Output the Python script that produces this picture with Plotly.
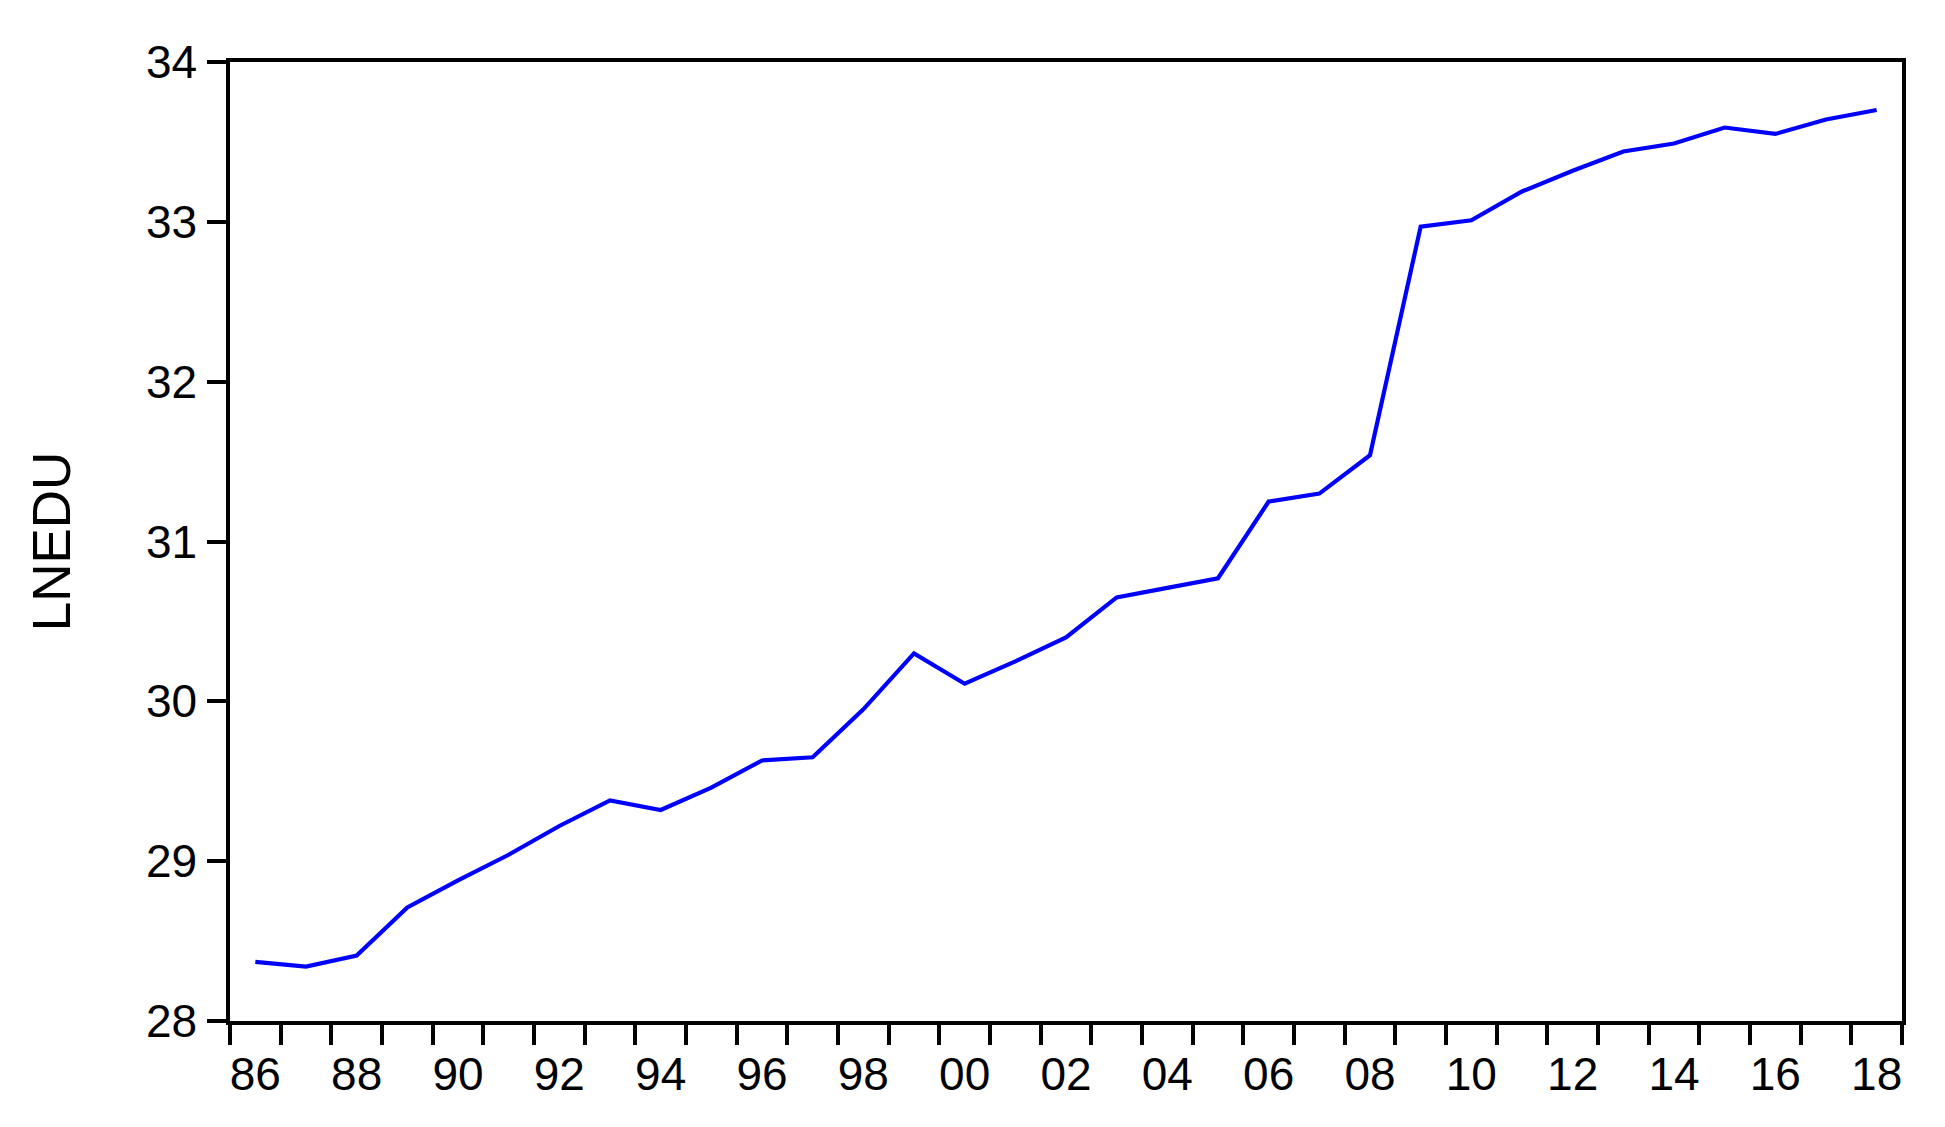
import plotly.graph_objects as go

# annual series, 1986-2018
years = list(range(1986, 2019))
lnedu = [28.37, 28.34, 28.41, 28.71, 28.88, 29.04, 29.22, 29.38, 29.32, 29.46,
         29.63, 29.65, 29.95, 30.30, 30.11, 30.25, 30.40, 30.65, 30.71, 30.77,
         31.25, 31.30, 31.54, 32.97, 33.01, 33.19, 33.32, 33.44, 33.49, 33.59,
         33.55, 33.64, 33.70]
label_years = list(range(1986, 2019, 2))
label_text = [f"{y % 100:02d}" for y in label_years]

# points sit in the middle of each year, ticks on year boundaries
x_mid = [y + 0.5 for y in years]

fig = go.Figure()
fig.add_trace(go.Scatter(x=x_mid, y=lnedu, mode='lines',
                         line=dict(color='#0000FF', width=4.2), showlegend=False))

font = "Liberation Sans, Arial, sans-serif"
fig.update_layout(
    width=1945, height=1127,
    margin=dict(l=222, r=51, t=54, b=114),  # page body adds 8px offset
    paper_bgcolor='white', plot_bgcolor='white',
    font=dict(family=font, color='black', size=46),
)
fig.update_xaxes(
    range=[1986, 2019], showgrid=False, zeroline=False,
    showline=True, linecolor='black', linewidth=3.5, mirror=True,
    tickmode='array', tickvals=[y + 0.5 for y in label_years], ticktext=label_text,
    ticks='', ticklabelstandoff=10, tickfont=dict(size=46),
    minor=dict(tickmode='array', tickvals=list(range(1986, 2020)),
               ticks='outside', ticklen=20, tickwidth=3.5, tickcolor='black', showgrid=False),
)
fig.update_yaxes(
    range=[28, 34], dtick=1, showgrid=False, zeroline=False,
    showline=True, linecolor='black', linewidth=3.5, mirror=True,
    ticks='outside', ticklen=19, tickwidth=3.5, tickcolor='black',
    ticklabelstandoff=1, tickfont=dict(size=46),
    title=dict(text='LNEDU', font=dict(size=53), standoff=59),
)

fig.write_html("out.html")
